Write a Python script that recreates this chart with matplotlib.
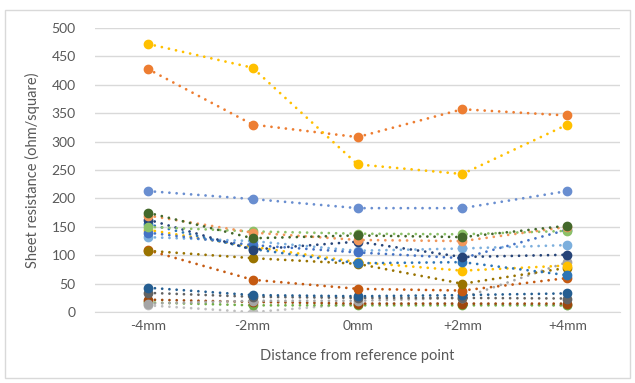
import matplotlib.pyplot as plt
from matplotlib.patches import Rectangle

# categories (distance from reference point)
positions = ['-4mm', '-2mm', '0mm', '+2mm', '+4mm']

# sheet resistance per sample
s_yellow = [472, 430, 260, 243, 330]
s_orange = [428, 330, 308, 357, 346]
s_cornflower = [213, 199, 183, 183, 213]
s_dkgreen = [175, 130, 135, 132, 152]
s_ltorange = [170, 140, 127, 125, 150]
s_ltgreen = [150, 142, 138, 137, 143]
s_navy = [163, 110, 124, 97, 101]
s_blue = [155, 111, 86, 88, 65]
s_blue2 = [140, 118, 105, 95, 145]
s_ltblue = [132, 125, 108, 112, 118]
s_yellow2 = [145, 115, 88, 73, 82]
s_dkyellow = [108, 95, 85, 50, 78]
s_rust = [109, 57, 41, 38, 60]
s_gray = [15, 20, 20, 25, 88]
s_dkblue = [43, 30, 28, 30, 33]
s_dkgray = [34, 27, 25, 25, 24]
s_brown = [22, 18, 15, 15, 15]
s_green = [17, 12, 12, 12, 12]
s_ltgray = [12, 0, 15, 15, 12]

series = [
    (s_ltgray, '#BFBFBF'),
    (s_green, '#70AD47'),
    (s_brown, '#9E480E'),
    (s_gray, '#A5A5A5'),
    (s_dkgray, '#636363'),
    (s_dkblue, '#255E91'),
    (s_rust, '#C55A11'),
    (s_dkyellow, '#997300'),
    (s_yellow2, '#FFC000'),
    (s_ltblue, '#7CAFDD'),
    (s_blue2, '#4472C4'),
    (s_blue, '#2E75B6'),
    (s_navy, '#264478'),
    (s_ltgreen, '#8CC168'),
    (s_ltorange, '#F1975A'),
    (s_dkgreen, '#43682B'),
    (s_cornflower, '#698ED0'),
    (s_orange, '#ED7D31'),
    (s_yellow, '#FFC000'),
]

plt.rcParams['font.family'] = 'Lato'

fig = plt.figure(figsize=(6.35, 3.83), dpi=100)
ax = fig.add_axes([0.150, 0.185, 0.826, 0.742])

x = list(range(len(positions)))
for vals, col in series:
    ax.plot(x, vals, color=col, lw=2.0, linestyle=(0, (0.01, 2.6)),
            dash_capstyle='round', marker='o', markersize=6,
            markeredgecolor=col, markerfacecolor=col)

ax.set_xlim(-0.5, 4.5)
ax.set_ylim(0, 500)
ax.set_yticks(range(0, 501, 50))
ax.set_xticks(x)
ax.set_xticklabels(positions)
ax.grid(axis='y', color='#D9D9D9', lw=1)
ax.set_axisbelow(True)
for side in ['top', 'right', 'left']:
    ax.spines[side].set_visible(False)
ax.spines['bottom'].set_color('#D9D9D9')
ax.tick_params(axis='both', length=0, labelsize=10, colors='#595959')
ax.tick_params(axis='y', pad=14)
ax.tick_params(axis='x', pad=6)

ax.set_ylabel('Sheet resistance (ohm/square)', fontsize=10.5, color='#595959', labelpad=8)
ax.set_xlabel('Distance from reference point', fontsize=10.5, color='#595959', labelpad=12)

fig.patches.append(Rectangle((5 / 635, 5 / 383), 625 / 635, 368 / 383,
                             transform=fig.transFigure, fill=False,
                             edgecolor='#D9D9D9', lw=1))

fig.savefig('out.png', dpi=100)
